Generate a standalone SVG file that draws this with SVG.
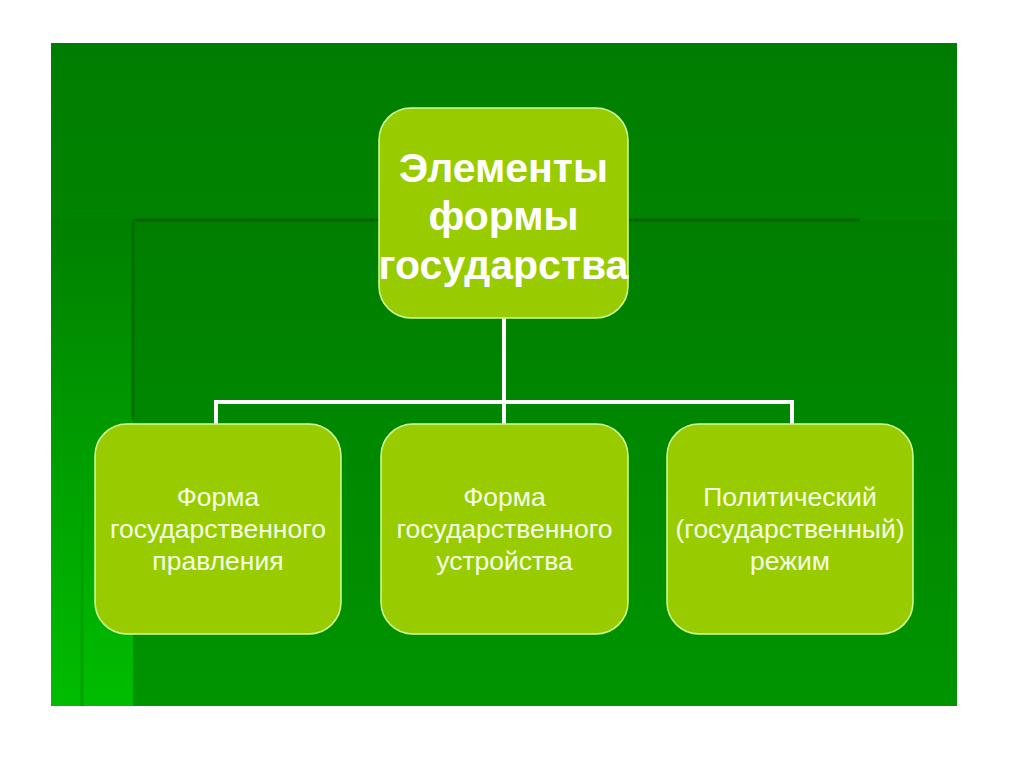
<svg xmlns="http://www.w3.org/2000/svg" width="1024" height="767" viewBox="0 0 1024 767">
<defs>
<linearGradient id="bg" x1="0" y1="0" x2="0" y2="1">
<stop offset="0" stop-color="#007d00"/>
<stop offset="1" stop-color="#009500"/>
</linearGradient>
<linearGradient id="strip" x1="0" y1="0" x2="0" y2="1">
<stop offset="0" stop-color="#008000"/>
<stop offset="1" stop-color="#00bd00"/>
</linearGradient>
<linearGradient id="panel" x1="0" y1="0" x2="0" y2="1">
<stop offset="0" stop-color="#007e00"/>
<stop offset="1" stop-color="#009400"/>
</linearGradient>
<style>
.box{fill:#99cc00;stroke:#ccff99;stroke-width:1.5}
.t1{font-family:"Liberation Sans",Arial,sans-serif;font-weight:bold;font-size:41px;fill:#ffffff;text-anchor:middle}
.t2{font-family:"Liberation Sans",Arial,sans-serif;font-size:26.5px;fill:#f4ffe8;text-anchor:middle}
.con{stroke:#ffffff;stroke-width:4;fill:none}
</style>
</defs>
<rect x="0" y="0" width="1024" height="767" fill="#ffffff"/>
<g id="background">
<rect x="51" y="43" width="906" height="663" fill="url(#bg)"/>
<rect x="51" y="220" width="82" height="486" fill="url(#strip)"/>
<rect x="133" y="220" width="824" height="486" fill="url(#panel)"/>
<line x1="133" y1="220" x2="860" y2="220" stroke="#006400" stroke-width="3"/>
<line x1="133" y1="220" x2="133" y2="420" stroke="#006e00" stroke-width="3"/>
<line x1="82" y1="490" x2="82" y2="706" stroke="#00a000" stroke-width="3"/>
</g>
<g id="connectors">
<path class="con" d="M504 318 V424"/>
<path class="con" d="M216 424 V402 H792 V424"/>
</g>
<g id="node-root">
<rect class="box" x="379" y="108" width="249" height="210" rx="32"/>
<text class="t1" x="503.5" y="182">Элементы</text>
<text class="t1" x="503.5" y="230">формы</text>
<text class="t1" x="503.5" y="279">государства</text>
</g>
<g id="node-pravlenie">
<rect class="box" x="95" y="424" width="246" height="210" rx="32"/>
<text class="t2" x="218" y="506">Форма</text>
<text class="t2" x="218" y="538">государственного</text>
<text class="t2" x="218" y="570">правления</text>
</g>
<g id="node-ustroistvo">
<rect class="box" x="381" y="424" width="247" height="210" rx="32"/>
<text class="t2" x="504.5" y="506">Форма</text>
<text class="t2" x="504.5" y="538">государственного</text>
<text class="t2" x="504.5" y="570">устройства</text>
</g>
<g id="node-rezhim">
<rect class="box" x="667" y="424" width="246" height="210" rx="32"/>
<text class="t2" x="790" y="506">Политический</text>
<text class="t2" x="790" y="538">(государственный)</text>
<text class="t2" x="790" y="570">режим</text>
</g>
</svg>
